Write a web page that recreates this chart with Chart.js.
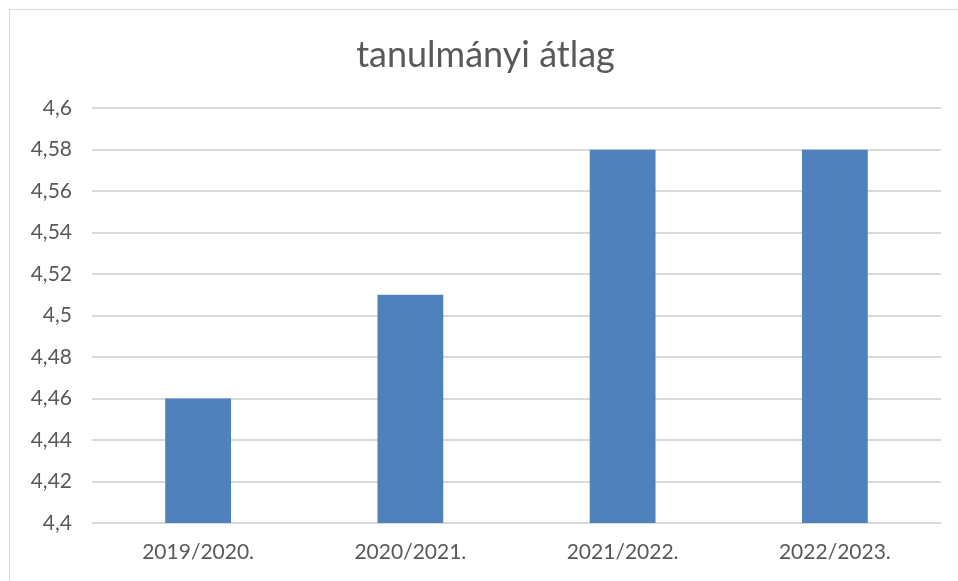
<!DOCTYPE html>
<html>
<head>
<meta charset="utf-8">
<script src="https://cdn.jsdelivr.net/npm/chart.js@4"></script>
<style>
  html, body { margin: 0; padding: 0; background: #fff; overflow: hidden; }
  .frame { position: absolute; left: 9px; top: 9px; width: 1000px; height: 600px;
           border-top: 1px solid #d9d9d9; border-left: 1px solid #d9d9d9; }
  .wrap { position: absolute; left: 0; top: 0; width: 958px; height: 581px; }
</style>
</head>
<body>
<div class="frame"></div>
<div class="wrap"><canvas id="myChart"></canvas></div>
<script>
/* data */
const categories = ['2019/2020.', '2020/2021.', '2021/2022.', '2022/2023.'];
const averages = [4.46, 4.51, 4.58, 4.58];
const chartTitle = 'tanulmányi átlag';
const yMin = 4.4;
const yMax = 4.6;
const yStep = 0.02;

const textColor = '#595959';
const gridColor = '#d9d9d9';
const barColor = '#4f81bd';

function formatTick(value) {
    return String(Number(value.toFixed(2))).replace('.', ',');
}

function initChart() {
    const ctx = document.getElementById('myChart').getContext('2d');

    new Chart(ctx, {
        type: 'bar',
        data: {
            labels: categories,
            datasets: [{
                label: chartTitle,
                backgroundColor: barColor,
                borderWidth: 0,
                data: averages,
                barPercentage: 0.62,
                categoryPercentage: 0.5,
            }]
        },
        options: {
            responsive: true,
            maintainAspectRatio: false,
            animation: false,
            // some left padding nudges the title centre to the right like the original
            layout: { padding: { left: 30, right: 17, top: 0, bottom: 0 } },
            plugins: {
                legend: { display: false },
                tooltip: { enabled: false },
                title: {
                    display: true,
                    text: chartTitle,
                    color: textColor,
                    font: { family: 'Lato', size: 36, weight: 'normal' },
                    padding: { top: 34, bottom: 31 },
                },
            },
            scales: {
                x: {
                    grid: { display: false, drawTicks: false },
                    border: { display: false },
                    ticks: {
                        color: textColor,
                        font: { family: 'Lato', size: 21 },
                        padding: 17,
                    },
                    afterFit: (scale) => { scale.height = 58; },
                },
                y: {
                    min: yMin,
                    max: yMax,
                    grid: { color: gridColor, lineWidth: 2, drawTicks: false },
                    border: { display: false },
                    ticks: {
                        stepSize: yStep,
                        color: textColor,
                        font: { family: 'Lato', size: 21 },
                        padding: 20,
                        callback: (value) => formatTick(value),
                    },
                    afterFit: (scale) => { scale.width = 62; },
                },
            },
        },
    });
}

initChart();
</script>
</body>
</html>
